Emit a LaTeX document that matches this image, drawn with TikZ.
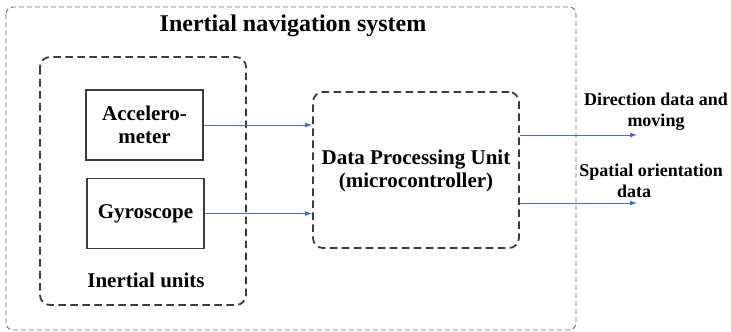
\documentclass[tikz,border=0pt]{standalone}
\usepackage{fontspec}
\setmainfont{Liberation Serif}
\usetikzlibrary{arrows.meta}
\definecolor{arrowblue}{HTML}{4472C4}
\definecolor{darkline}{HTML}{3C3C3C}
\definecolor{outerline}{HTML}{707070}
\tikzset{
  outerbox/.style={draw=outerline, line width=0.9pt, dash pattern=on 5pt off 3pt, rounded corners=7pt},
  groupbox/.style={draw=darkline, line width=1.8pt, dash pattern=on 7.5pt off 4.5pt, rounded corners=10pt},
  unitbox/.style={draw=darkline, line width=1.8pt, minimum width=117pt, minimum height=70pt, inner sep=0pt},
  txt/.style={font=\bfseries\fontsize{21}{23}\selectfont, align=center, inner sep=0pt},
  lbl/.style={font=\bfseries\fontsize{18}{21}\selectfont, align=center, inner sep=0pt},
  flow/.style={draw=arrowblue, line width=0.9pt, -{Latex[length=7pt,width=5pt]}}
}
\begin{document}
\begin{tikzpicture}[x=1pt,y=-1pt]
\useasboundingbox (0,0) rectangle (731,332);
% outer system box
\draw[outerbox] (6,7) rectangle (576,330);
\node[font=\bfseries\fontsize{24}{26}\selectfont, inner sep=0pt] (title) at (293,26) {Inertial navigation system};
% inertial units group
\draw[groupbox] (40,57) rectangle (246,305);
\node[txt] (iu) at (146,280) {Inertial units};
% sensors
\node[unitbox, txt] (acc) at (144.5,125) {Accelero-\\meter};
\node[unitbox, txt] (gyr) at (145.5,213.5) {Gyroscope};
% processing unit
\node[groupbox, minimum width=206pt, minimum height=156pt] (dpu) at (416,170) {};
\node[txt] (dput) at (416,171) {Data Processing Unit\\(microcontroller)};
% outputs
\coordinate (o1) at (637,135);
\coordinate (o2) at (637,203);
\draw[flow] (acc.east) -- (acc.east -| dpu.west);
\draw[flow] (gyr.east) -- (gyr.east -| dpu.west);
\draw[flow] (dpu.east |- o1) -- (o1);
\draw[flow] (dpu.east |- o2) -- (o2);
\node[lbl] (l1) at (656,112) {Direction data and\\moving};
\node[lbl] (l2) at (651,181) {Spatial orientation\\\hspace*{-34pt}data};
\end{tikzpicture}
\end{document}
